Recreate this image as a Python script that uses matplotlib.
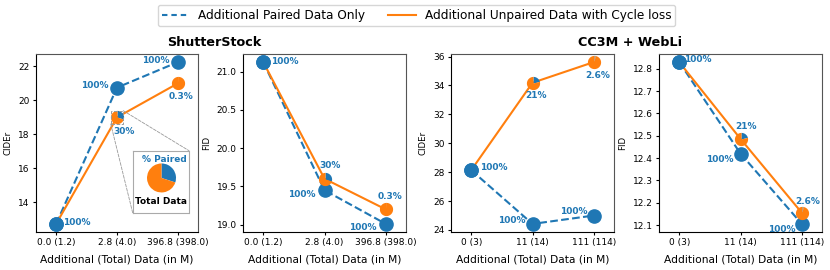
import numpy as np
import matplotlib
matplotlib.use("Agg")
import matplotlib.pyplot as plt
from matplotlib.patches import Rectangle, Wedge, ConnectionPatch
from matplotlib.lines import Line2D

BLUE = "#1f77b4"
ORANGE = "#ff7f0e"

# ---------------- data ----------------
ss_ticks = ["0.0 (1.2)", "2.8 (4.0)", "396.8 (398.0)"]
cc_ticks = ["0 (3)", "11 (14)", "111 (114)"]

ss_cider_paired = [12.73, 20.75, 22.25]
ss_cider_unpaired = [12.73, 19.00, 21.00]
ss_fid_paired = [21.125, 19.45, 19.01]
ss_fid_unpaired = [21.125, 19.60, 19.20]
ss_pct_unpaired = [100, 30, 0.3]

cc_cider_paired = [28.14, 24.42, 25.00]
cc_cider_unpaired = [28.14, 34.19, 35.62]
cc_fid_paired = [12.83, 12.42, 12.105]
cc_fid_unpaired = [12.83, 12.486, 12.155]
cc_pct_unpaired = [100, 21, 2.6]

pct_labels_ss = ["100%", "30%", "0.3%"]
pct_labels_cc = ["100%", "21%", "2.6%"]

plt.rcParams['font.family'] = ['DejaVu Sans']

fig = plt.figure(figsize=(8.3, 2.7), dpi=100)
W, H = 830, 270


def ax_at(left_px, right_px, top_px, bottom_px):
    return fig.add_axes([left_px / W, 1 - bottom_px / H,
                         (right_px - left_px) / W, (bottom_px - top_px) / H])


axes = [ax_at(36, 198, 54, 232), ax_at(243, 406, 54, 232),
        ax_at(451, 614, 54, 232), ax_at(659, 822, 54, 232)]


def wedge_verts(a0, a1, n=80):
    ang = np.deg2rad(np.linspace(a0, a1, n))
    pts = [(0, 0)] + [(np.cos(a), np.sin(a)) for a in ang] + [(0, 0)]
    return pts


MS = 9.5


def pie_marker(ax, x, y, pct):
    if pct >= 100:
        ax.plot([x], [y], marker='o', ms=MS, color=BLUE, ls='none', zorder=5)
        return
    split = 90 - 360 * pct / 100.0
    ax.plot([x], [y], marker=wedge_verts(90, split), ms=MS, color=BLUE,
            ls='none', zorder=5, markeredgewidth=0)
    ax.plot([x], [y], marker=wedge_verts(split, -270), ms=MS, color=ORANGE,
            ls='none', zorder=5, markeredgewidth=0)


def label(ax, x, y, txt, dx, dy, ha):
    ax.annotate(txt, (x, y), xytext=(dx, dy), textcoords='offset pixels',
                ha=ha, va='center', fontsize=6.5, fontweight='bold',
                color=BLUE, zorder=6)


def panel(ax, paired, unpaired, pcts, ticks, ylab):
    x = np.arange(3)
    ax.plot(x, paired, ls='--', color=BLUE, lw=1.5, zorder=3)
    ax.plot(x, unpaired, ls='-', color=ORANGE, lw=1.5, zorder=3)
    for i in range(3):
        ax.plot([x[i]], [paired[i]], marker='o', ms=MS, color=BLUE, ls='none', zorder=4)
        pie_marker(ax, x[i], unpaired[i], pcts[i])
    ax.set_xticks(x)
    ax.set_xticklabels(ticks, fontsize=6.5)
    ax.tick_params(axis='y', labelsize=6.5)
    ax.tick_params(length=2.5, pad=2)
    ax.set_xlim(-0.33, 2.33)
    ax.set_xlabel("Additional (Total) Data (in M)", fontsize=7.7, labelpad=5)
    ax.set_ylabel(ylab, fontsize=6.2, labelpad=4)
    for s in ['top', 'right']:
        ax.spines[s].set_color('#555555')


# Panel 1: ShutterStock CIDEr
ax = axes[0]
panel(ax, ss_cider_paired, ss_cider_unpaired, ss_pct_unpaired, ss_ticks, "CIDEr")
ax.set_yticks([14, 16, 18, 20, 22])
label(ax, 0, ss_cider_paired[0], "100%", 7, 1, 'left')
label(ax, 1, ss_cider_paired[1], "100%", -8, 2, 'right')
label(ax, 1, ss_cider_unpaired[1], pct_labels_ss[1], -4, -14, 'left')
label(ax, 2, ss_cider_paired[2], "100%", -8, 2, 'right')
label(ax, 2, ss_cider_unpaired[2], pct_labels_ss[2], 3, -13, 'center')

# zoom rectangle + inset
ax.add_patch(Rectangle((0.897, 18.61), 0.206, 0.78, fill=False, ec='#999999',
                       ls='--', lw=0.7, zorder=6))
iax = ax.inset_axes([0.597, 0.107, 0.347, 0.35])
iw, ih = 0.347 * 162, 0.35 * 178
iax.set_xlim(0, iw)
iax.set_ylim(0, ih)
iax.set_xticks([])
iax.set_yticks([])
for s in iax.spines.values():
    s.set_color('#aaaaaa')
    s.set_linestyle((0, (2, 1)))
    s.set_linewidth(0.8)
split = 90 - 360 * 0.30
iax.add_patch(Wedge((28.8, 35), 14.5, split, 90, color=BLUE, lw=0))
iax.add_patch(Wedge((28.8, 35), 14.5, -270, split, color=ORANGE, lw=0))
iax.text(31.3, 53, "% Paired", ha='center', va='center', fontsize=6.5,
         fontweight='bold', color=BLUE)
iax.text(28.5, 11, "Total Data", ha='center', va='center', fontsize=6.5,
         fontweight='bold', color='black')
for (xa, ya), (xb, yb) in [((1.103, 19.39), (1, 1)), ((0.897, 18.61), (0, 0))]:
    cp = ConnectionPatch(xyA=(xa, ya), coordsA=ax.transData,
                         xyB=(xb, yb), coordsB=iax.transAxes,
                         color='#999999', ls='--', lw=0.6)
    fig.add_artist(cp)

# Panel 2: ShutterStock FID
ax = axes[1]
panel(ax, ss_fid_paired, ss_fid_unpaired, ss_pct_unpaired, ss_ticks, "FID")
ax.set_yticks([19.0, 19.5, 20.0, 20.5, 21.0])
label(ax, 0, ss_fid_paired[0], "100%", 8, 1, 'left')
label(ax, 1, ss_fid_unpaired[1], pct_labels_ss[1], 6, 13, 'center')
label(ax, 1, ss_fid_paired[1], "100%", -9, -4, 'right')
label(ax, 2, ss_fid_unpaired[2], pct_labels_ss[2], 4, 13, 'center')
label(ax, 2, ss_fid_paired[2], "100%", -9, -4, 'right')

# Panel 3: CC3M CIDEr
ax = axes[2]
panel(ax, cc_cider_paired, cc_cider_unpaired, cc_pct_unpaired, cc_ticks, "CIDEr")
ax.set_yticks([24, 26, 28, 30, 32, 34, 36])
label(ax, 0, cc_cider_paired[0], "100%", 9, 3, 'left')
label(ax, 1, cc_cider_unpaired[1], pct_labels_cc[1], 4, -13, 'center')
label(ax, 1, cc_cider_paired[1], "100%", -7, 3, 'right')
label(ax, 2, cc_cider_unpaired[2], pct_labels_cc[2], 4, -13, 'center')
label(ax, 2, cc_cider_paired[2], "100%", -6, 4, 'right')

# Panel 4: CC3M FID
ax = axes[3]
panel(ax, cc_fid_paired, cc_fid_unpaired, cc_pct_unpaired, cc_ticks, "FID")
ax.set_yticks([12.1, 12.2, 12.3, 12.4, 12.5, 12.6, 12.7, 12.8])
label(ax, 0, cc_fid_paired[0], "100%", 5, 3, 'left')
label(ax, 1, cc_fid_unpaired[1], pct_labels_cc[1], 6, 12, 'center')
label(ax, 1, cc_fid_paired[1], "100%", -7, -6, 'right')
label(ax, 2, cc_fid_unpaired[2], pct_labels_cc[2], 6, 11, 'center')
label(ax, 2, cc_fid_paired[2], "100%", -6, -6, 'right')

# titles
fig.text(214 / W, 1 - 42 / H, "ShutterStock", ha='center', va='center',
         fontsize=9.2, fontweight='bold')
fig.text(630 / W, 1 - 42 / H, "CC3M + WebLi", ha='center', va='center',
         fontsize=9.2, fontweight='bold')

# legend
h1 = Line2D([], [], ls=(0, (2.6, 1.9)), color=BLUE, lw=1.5)
h2 = Line2D([], [], ls='-', color=ORANGE, lw=1.5)
fig.legend([h1, h2], ["Additional Paired Data Only",
                      "Additional Unpaired Data with Cycle loss"],
           loc='center', bbox_to_anchor=(0.502, 1 - 15.5 / H), ncol=2,
           fontsize=8.7, frameon=True, handlelength=2.3, columnspacing=1.9,
           borderpad=0.35, handletextpad=0.7)

fig.savefig("out.png", dpi=100)
